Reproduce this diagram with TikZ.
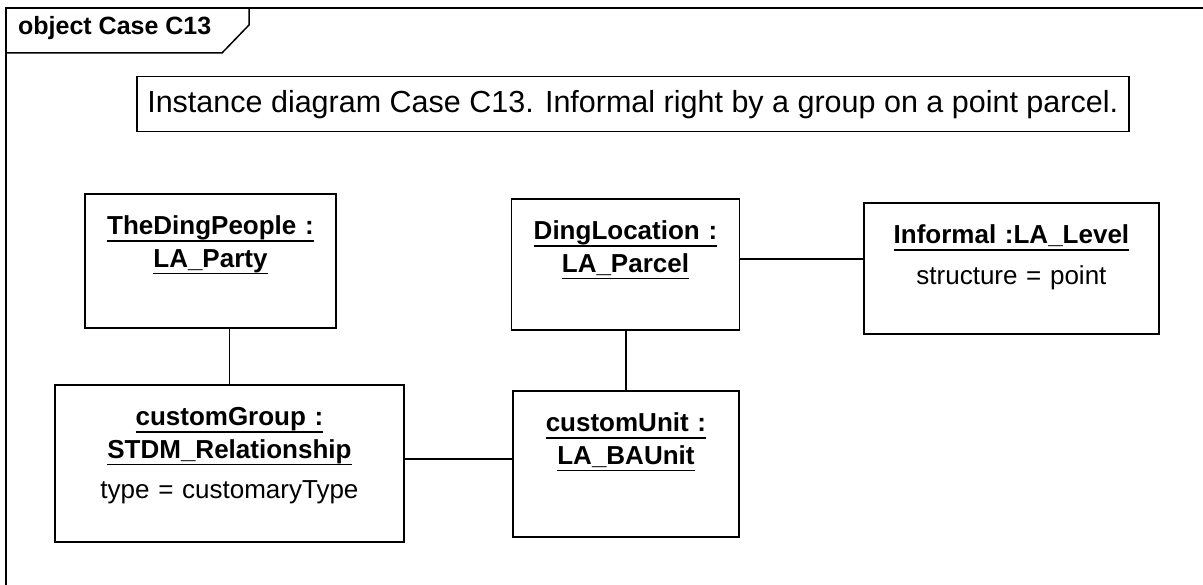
\documentclass[tikz,border=0pt]{standalone}
\usepackage{fontspec}
\setmainfont{Liberation Sans}
% underlined object name
\newcommand{\ulname}[1]{\setbox0\hbox{#1}\leavevmode\rlap{\rule[-7pt]{\wd0}{1.6pt}}\box0}

\begin{document}
\begin{tikzpicture}[
  x=1pt, y=-1pt,
  diagframe/.style={line width=1.5pt},
  notebox/.style={draw, line width=1.5pt, anchor=north west, inner sep=0pt,
    font=\fontsize{30.5}{36}\selectfont},
  objbox/.style={draw, line width=1.9pt, anchor=north west, inner sep=0pt,
    align=center, text height=41pt, font=\fontsize{26}{32.5}\selectfont},
  assoc/.style={line width=1.8pt},
  every node/.style={text=black}]

\useasboundingbox (0,0) rectangle (1203,585);

% Diagram frame and its name tab
\draw[diagframe] (6,600) |- (1220,8);
\draw[diagframe] (6,53) -- (222,53) -- (249,25) -- (249,8);
\node[anchor=base west, inner sep=0pt, font=\bfseries\fontsize{25}{30}\selectfont] (tab) at (18,35) {object Case C13};

% Position the note and the object boxes
\node[notebox, minimum width=992pt, minimum height=55pt] (title) at (136,76)
  {Instance diagram Case C13. Informal right by a group on a point parcel.};

\node[objbox, text width=251pt, text depth=93pt] (party) at (84,193)
  {\bfseries\ulname{TheDingPeople :}\\\ulname{LA\_Party}};
\node[objbox, text width=349pt, text depth=116pt] (group) at (54,384)
  {\bfseries\ulname{customGroup :}\\\ulname{STDM\_Relationship}\\[8pt]\mdseries type = customaryType};
\node[objbox, text width=228pt, text depth=90pt] (parcel) at (510.5,198)
  {\bfseries\ulname{DingLocation :}\\\ulname{LA\_Parcel}};
\node[objbox, text width=226pt, text depth=105pt] (baunit) at (512,390)
  {\bfseries\ulname{customUnit :}\\\ulname{LA\_BAUnit}};
\node[objbox, text width=295pt, text depth=90pt] (level) at (863,202)
  {\bfseries\ulname{Informal :LA\_Level}\\[8.5pt]\mdseries structure = point};

% Draw the links between the objects
\draw[assoc] (group.north) -- (group.north |- party.south);
\draw[assoc] ([yshift=4.5pt]group.east) -- ([yshift=4.5pt]group.east -| baunit.west);
\draw[assoc] (baunit.north) -- (baunit.north |- parcel.south);
\draw[assoc] ([yshift=5.8pt]parcel.east) -- ([yshift=5.8pt]parcel.east -| level.west);

\end{tikzpicture}
\end{document}
